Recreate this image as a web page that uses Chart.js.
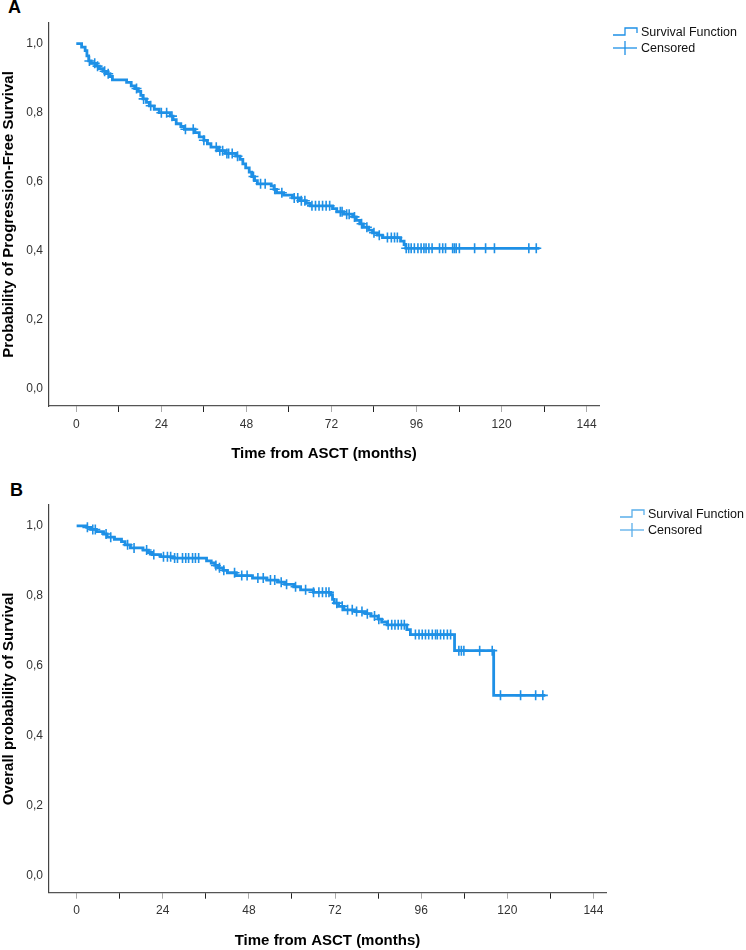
<!DOCTYPE html>
<html>
<head>
<meta charset="utf-8">
<script src="https://cdn.jsdelivr.net/npm/chart.js@4"></script>
<style>
  body { margin: 0; background: #fff; font-family: "Liberation Sans", Arial, Helvetica, sans-serif; }
  #wrap { position: relative; width: 746px; height: 950px; }
  canvas { position: absolute; left: 0; }
  .panel { position: absolute; font-weight: bold; font-size: 18px; color: #000; }
  .legend { position: absolute; font-size: 12.5px; color: #111; line-height: 16px; }
  .legend div { display: flex; align-items: center; height: 16px; }
  .legend svg { margin-right: 3px; }
</style>
</head>
<body>
<div id="wrap">
  <div class="panel" style="left:8px; top:-3px;">A</div>
  <canvas id="chartA" width="746" height="470" style="top:0"></canvas>
  <div class="legend" style="left:613px; top:24px;">
    <div><svg width="25" height="16"><polyline points="0,11 12,11 12,4 24,4 24,9" fill="none" stroke="#1E90E6" stroke-width="1.3"/></svg>Survival Function</div>
    <div><svg width="25" height="16"><line x1="0" y1="8" x2="24" y2="8" stroke="#1E90E6" stroke-width="1.3"/><line x1="12" y1="1" x2="12" y2="15" stroke="#1E90E6" stroke-width="1.3"/></svg>Censored</div>
  </div>

  <div class="panel" style="left:10px; top:480px;">B</div>
  <canvas id="chartB" width="746" height="480" style="top:470px"></canvas>
  <div class="legend" style="left:620px; top:506px;">
    <div><svg width="25" height="16"><polyline points="0,11 12,11 12,4 24,4 24,9" fill="none" stroke="#5AAEEA" stroke-width="1.3"/></svg>Survival Function</div>
    <div><svg width="25" height="16"><line x1="0" y1="8" x2="24" y2="8" stroke="#5AAEEA" stroke-width="1.3"/><line x1="12" y1="1" x2="12" y2="15" stroke="#5AAEEA" stroke-width="1.3"/></svg>Censored</div>
  </div>
</div>

<script>
// Panel A - progression-free survival (step function: time in months, survival probability)
const pfsTimes = [0, 1.5, 2.5, 3.0, 3.5, 4.2, 5.5, 6.5, 7.5, 8.5, 9.5, 10.2, 14.2, 15.5, 16.5, 17.5, 18.2, 18.8,
  19.8, 20.6, 22, 23.4, 26.5, 27.3, 28.2, 29.5, 30.5, 33.5, 34.7, 36, 37, 38, 40, 42, 45, 46.2, 47, 47.8, 48.8,
  49.5, 50.3, 51.1, 55, 55.8, 56.5, 58.5, 61, 63, 64.9, 66, 72.3, 73.5, 75.5, 78, 79, 80, 81, 82.5, 83.6, 85,
  86.4, 91.5, 92.5, 93, 130.7];
const pfsSurv = [1.0, 0.99, 0.98, 0.965, 0.95, 0.943, 0.935, 0.928, 0.92, 0.913, 0.905, 0.895, 0.888, 0.878, 0.87,
  0.862, 0.85, 0.84, 0.83, 0.82, 0.81, 0.80, 0.79, 0.78, 0.768, 0.76, 0.752, 0.742, 0.73, 0.72, 0.71, 0.70, 0.69,
  0.682, 0.674, 0.665, 0.652, 0.64, 0.628, 0.615, 0.603, 0.594, 0.588, 0.578, 0.568, 0.561, 0.553, 0.545, 0.537,
  0.53, 0.522, 0.513, 0.506, 0.498, 0.488, 0.478, 0.468, 0.46, 0.452, 0.445, 0.438, 0.428, 0.418, 0.407, 0.407];
const pfsCensored = [3.7, 5.2, 6, 8, 9, 17, 19, 21, 24, 25.5, 27, 30.8, 33, 36, 39.5, 40.5, 41.3, 42.5, 43, 44,
  45.5, 50, 52, 53.3, 56, 58, 61.5, 62.5, 63.5, 64.5, 66.5, 67.5, 68.5, 69.5, 70.5, 71.5, 74.5, 75, 76.3, 77,
  78.5, 80.5, 82, 84, 85.5, 87.8, 88.9, 89.8, 90.6, 93.1, 93.8, 94.5, 95.4, 96.4, 97.3, 98.1, 98.7, 99.5,
  100.4, 102.5, 103.4, 104.2, 106.2, 106.7, 107.2, 108.1, 112.4, 115.5, 118, 127.7, 129.8];

// Panel B - overall survival
const osTimes = [0, 2.8, 3.9, 5.5, 7.5, 8.5, 10.5, 12.5, 13.5, 15, 18.5, 20, 21, 23.4, 27, 36.2, 37.5, 38.5, 39.5,
  40.8, 42, 44.5, 49, 53, 56, 58, 60.5, 62.4, 66, 70.8, 71.3, 71.8, 73, 74.5, 77.5, 80.5, 82, 84, 85, 86.5, 92,
  93, 105.3, 116.2, 130.6];
const osSurv = [1.0, 0.996, 0.99, 0.984, 0.977, 0.968, 0.962, 0.955, 0.946, 0.937, 0.931, 0.924, 0.918, 0.912,
  0.908, 0.90, 0.894, 0.887, 0.88, 0.873, 0.866, 0.858, 0.851, 0.845, 0.839, 0.833, 0.826, 0.817, 0.81, 0.803,
  0.79, 0.779, 0.77, 0.76, 0.755, 0.749, 0.742, 0.733, 0.725, 0.717, 0.703, 0.689, 0.643, 0.515, 0.515];
const osCensored = [3, 4.5, 5.2, 8.2, 9.5, 14.2, 16, 19.5, 21.5, 24.2, 25.3, 26.2, 27.3, 28.1, 29.5, 30.4, 31.2,
  32.3, 33.1, 34, 38.8, 39.8, 41, 44, 46, 47.5, 50.5, 52, 54, 55.2, 57, 58.5, 61, 63.8, 66, 67.5, 68.5, 69.5,
  70.3, 72.5, 74, 75.5, 76.8, 78, 79.5, 81, 83, 84.2, 86.8, 87.8, 88.7, 89.6, 90.5, 91.3, 94.4, 95.4, 96.3,
  97.2, 98.1, 99.1, 100, 100.5, 101.4, 102.3, 103.3, 104.2, 106.5, 107.2, 107.9, 112.3, 115.8, 118.1, 123.7,
  127.9, 129.9];

const xTickValues = [0, 12, 24, 36, 48, 60, 72, 84, 96, 108, 120, 132, 144];
const xLabelValues = [0, 24, 48, 72, 96, 120, 144];
const yTickValues = [0, 0.2, 0.4, 0.6, 0.8, 1.0];

const blue = '#1E90E6';
const fontFamily = '"Liberation Sans", Arial, Helvetica, sans-serif';

// value of the step function at time t
function survAt(times, surv, t) {
  let v = surv[0];
  for (let i = 0; i < times.length; i++) {
    if (times[i] <= t) v = surv[i];
  }
  return v;
}

function makeChart(id, times, surv, censored, opts) {
  const ctx = document.getElementById(id).getContext('2d');
  return new Chart(ctx, {
    type: 'line',
    data: {
      datasets: [{
        label: 'Survival Function',
        data: times.map((t, i) => ({ x: t, y: surv[i] })),
        borderColor: blue,
        borderWidth: 2.8,
        stepped: 'before', // horizontal first, then drop at the event time
        pointRadius: 0,
        fill: false
      }, {
        label: 'Censored',
        type: 'scatter',
        data: censored.map(t => ({ x: t, y: survAt(times, surv, t) })),
        pointStyle: 'cross',
        pointRadius: 5,
        borderColor: blue,
        borderWidth: 1.6,
        showLine: false
      }]
    },
    options: {
      responsive: false,
      animation: false,
      devicePixelRatio: 1,
      layout: { padding: { top: opts.top, right: opts.right, left: 0, bottom: 0 } },
      plugins: { legend: { display: false }, tooltip: { enabled: false } },
      scales: {
        x: {
          type: 'linear',
          min: -7.7,
          max: 147.5,
          afterBuildTicks: s => { s.ticks = xTickValues.map(v => ({ value: v })); },
          afterFit: s => { s.height = opts.xHeight; },
          border: { color: '#555', width: 1.2 },
          grid: {
            drawOnChartArea: false,
            tickLength: 6,
            tickWidth: 1,
            tickColor: c => (xLabelValues.includes(c.tick.value) ? '#aaa' : '#222')
          },
          ticks: {
            padding: 5,
            color: '#333',
            font: { family: fontFamily, size: 12 },
            callback: v => (xLabelValues.includes(v) ? String(v) : '')
          },
          title: {
            display: true,
            text: 'Time from ASCT (months)',
            color: '#000',
            font: { family: fontFamily, size: 15, weight: 'bold' },
            padding: { top: 0, bottom: opts.xTitlePad }
          }
        },
        y: {
          min: -0.05,
          max: 1.06,
          afterBuildTicks: s => { s.ticks = yTickValues.map(v => ({ value: v })); },
          afterFit: s => { s.width = 49; },
          border: { color: '#444', width: 1.2 },
          grid: { drawOnChartArea: false, drawTicks: false },
          ticks: {
            padding: 6,
            color: '#333',
            font: { family: fontFamily, size: 12 },
            callback: v => v.toFixed(1).replace('.', ',')
          },
          title: {
            display: true,
            text: opts.yTitle,
            color: '#000',
            font: { family: fontFamily, size: 15, weight: 'bold' },
            padding: { top: 0, bottom: 0 }
          }
        }
      }
    }
  });
}

makeChart('chartA', pfsTimes, pfsSurv, pfsCensored, {
  top: 23, right: 147, xHeight: 64, xTitlePad: 7.5,
  yTitle: 'Probability of Progression-Free Survival'
});
makeChart('chartB', osTimes, osSurv, osCensored, {
  top: 35, right: 140, xHeight: 57.3, xTitlePad: 0,
  yTitle: 'Overall probability of Survival'
});
</script>
</body>
</html>
